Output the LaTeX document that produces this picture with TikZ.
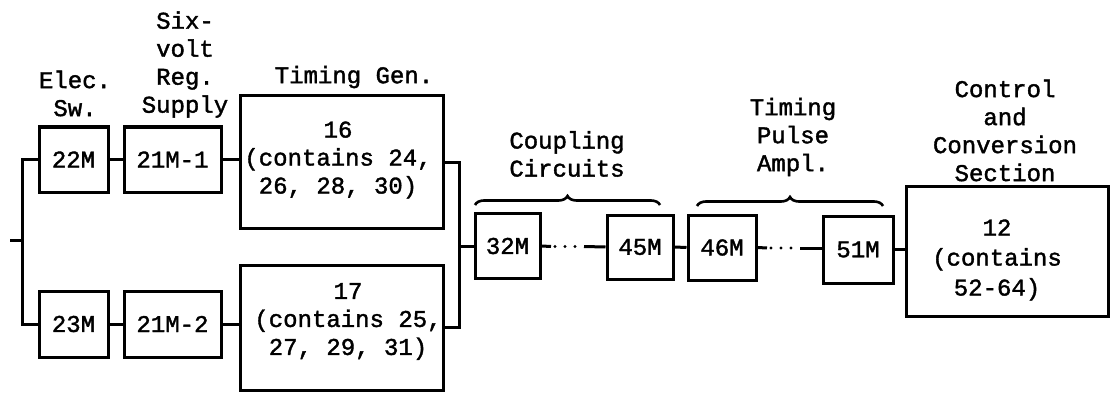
\documentclass[tikz,border=0pt]{standalone}
\usepackage{fontspec}
\setmainfont{Liberation Mono}[FakeBold=1.6]
\usetikzlibrary{decorations.pathreplacing}
\begin{document}
\begin{tikzpicture}[x=1pt,y=-1pt,
  font=\fontsize{24}{28}\selectfont,
  box/.style={draw, line width=3pt, inner sep=0pt, align=center},
  wire/.style={line width=3pt},
  dotline/.style={line width=3.2pt, dash pattern=on 0pt off 10pt, line cap=round},
  bracestyle/.style={line width=2.6pt, decorate, decoration={brace, amplitude=9pt}},
  lbl/.style={align=center, inner sep=0pt}]
\useasboundingbox (0,0) rectangle (1110,393);
% boxes
\node[box, minimum width=69pt, minimum height=65pt] (b22) at (73.5,159.5) {22M};
\node[box, minimum width=97pt, minimum height=65pt] (b21a) at (172.5,159.5) {21M-1};
\node[box, minimum width=203pt, minimum height=132pt] (b16) at (341.5,162) {};
\node[box, minimum width=69pt, minimum height=66pt] (b23) at (73.5,324) {23M};
\node[box, minimum width=97pt, minimum height=66pt] (b21b) at (172.5,324) {21M-2};
\node[box, minimum width=203pt, minimum height=125pt] (b17) at (341.5,327.5) {};
\node[box, minimum width=65pt, minimum height=65pt] (b32) at (507.5,246) {32M};
\node[box, minimum width=66pt, minimum height=64pt] (b45) at (640,247) {45M};
\node[box, minimum width=68pt, minimum height=65pt] (b46) at (722,247.5) {46M};
\node[box, minimum width=70pt, minimum height=67pt] (b51) at (858,249.5) {51M};
\node[box, minimum width=202pt, minimum height=130pt] (b12) at (1007.5,251) {};
% box texts
\node[lbl] (t16) at (338,160) {16\\(contains 24,\\26, 28, 30)};
\node[lbl] (t17) at (348,321.5) {17\\(contains 25,\\27, 29, 31)};
\node[lbl, font=\fontsize{24}{30}\selectfont] (t12) at (997,260) {12\\(contains\\52-64)};
% labels
\node[lbl] (lelec) at (75,93.5) {Elec.\\Sw.};
\node[lbl] (lsix) at (185,64.5) {Six-\\volt\\Reg.\\Supply};
\node[lbl] (ltim) at (354,77) {Timing Gen.};
\node[lbl] (lcoup) at (567,154) {Coupling\\Circuits};
\node[lbl] (lpulse) at (793,137) {Timing\\Pulse\\Ampl.};
\node[lbl] (lctrl) at (1005,130.5) {Control\\and\\Conversion\\Section};
% connectors left
\coordinate (in) at (10,240);
\coordinate (bus) at (22,240);
\draw[wire] (in) -- (bus);
\draw[wire] (b22.west) -| (bus) |- (b23.west);
\draw[wire] (b22.east) -- (b21a.west);
\draw[wire] (b23.east) -- (b21b.west);
\draw[wire] (b21a.east) -- (b21a.east -| b16.west);
\draw[wire] (b21b.east) -- (b21b.east -| b17.west);
% right bus
\coordinate (rbus) at (459,246);
\draw[wire] (b16.east) -| (rbus) |- (b17.east);
\draw[wire] (rbus) -- (b32.west);
% coupling chain
\coordinate (c1) at (551,246.5);
\coordinate (c2) at (584,246.5);
\draw[wire] (b32.east) -- (c1);
\draw[dotline] ([xshift=4pt]c1) -- (c2);
\draw[wire] (c2) -- (b45.west);
\draw[wire] (b45.east) -- (b46.west);
\coordinate (d1) at (767,248);
\coordinate (d2) at (800,248);
\draw[wire] (b46.east) -- (d1);
\draw[dotline] ([xshift=4pt]d1) -- (d2);
\draw[wire] (d2) -- (b51.west |- d2);
\draw[wire] (b51.east) -- (b51.east -| b12.west);
% braces
\coordinate (br1a) at (475,205);
\coordinate (br1b) at (660,205);
\coordinate (br2a) at (697,206);
\coordinate (br2b) at (883,206);
\draw[bracestyle] (br1a) -- (br1b);
\draw[bracestyle] (br2a) -- (br2b);
\end{tikzpicture}
\end{document}
